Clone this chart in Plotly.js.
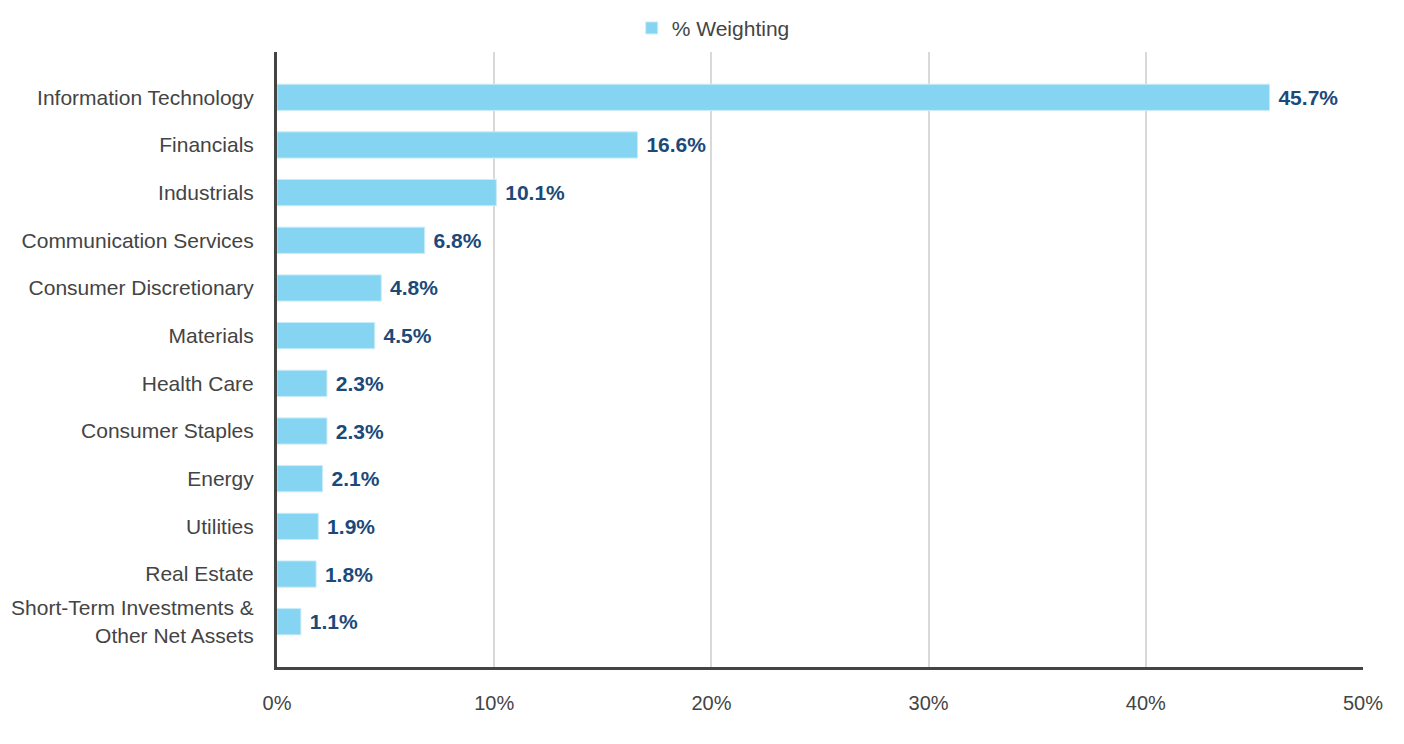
<!DOCTYPE html>
<html>
<head>
<meta charset="utf-8">
<script src="https://cdn.plot.ly/plotly-3.0.1.min.js"></script>
<style>
  html, body { margin: 0; padding: 0; background: #fff; }
  #chart { width: 1404px; height: 744px; }
</style>
</head>
<body>
<div id="chart"></div>
<script>
// sector weightings
const sectors = [
  'Information Technology',
  'Financials',
  'Industrials',
  'Communication Services',
  'Consumer Discretionary',
  'Materials',
  'Health Care',
  'Consumer Staples',
  'Energy',
  'Utilities',
  'Real Estate',
  'Short-Term Investments &amp;<br>Other Net Assets'
];
const weights = [45.7, 16.6, 10.1, 6.8, 4.8, 4.5, 2.3, 2.3, 2.1, 1.9, 1.8, 1.1];
const xTicks = [0, 10, 20, 30, 40, 50];
const xTickText = ['0%', '10%', '20%', '30%', '40%', '50%'];

const fontFamily = 'Liberation Sans, Arial, sans-serif';

const data = [{
  type: 'bar',
  orientation: 'h',
  name: '% Weighting',
  x: weights,
  y: sectors,
  text: weights.map(v => '\u00a0' + v.toFixed(1) + '%'),
  textposition: 'outside',
  cliponaxis: false,
  textfont: { family: fontFamily, size: 21, color: '#1b4a7a', weight: 'bold' },
  marker: { color: '#84d4f2', line: { color: '#c9ecf9', width: 1 } },
  hoverinfo: 'none'
}];

const layout = {
  width: 1404,
  height: 744,
  margin: { l: 277, r: 41, t: 52, b: 77, autoexpand: false },
  paper_bgcolor: '#fff',
  plot_bgcolor: '#fff',
  font: { family: fontFamily, size: 21, color: '#444' },
  bargap: 0.45,
  showlegend: true,
  legend: {
    orientation: 'h',
    x: 0.508, xanchor: 'center', xref: 'container',
    y: 0.962, yanchor: 'middle', yref: 'container',
    font: { size: 21, color: '#444' }
  },
  xaxis: {
    range: [0, 50],
    tickvals: xTicks,
    ticktext: xTickText,
    showgrid: true,
    gridcolor: '#d9d9d9',
    gridwidth: 2,
    zeroline: false,
    showline: true,
    linecolor: '#444',
    linewidth: 3,
    ticks: 'outside',
    ticklen: 16,
    tickcolor: 'rgba(0,0,0,0)',
    tickfont: { size: 20, color: '#444' },
    fixedrange: true
  },
  yaxis: {
    type: 'category',
    categoryorder: 'array',
    categoryarray: sectors,
    range: [11.95, -0.95],
    showgrid: false,
    zeroline: false,
    showline: true,
    linecolor: '#444',
    linewidth: 3,
    ticks: 'outside',
    ticklen: 16,
    tickcolor: 'rgba(0,0,0,0)',
    tickfont: { size: 21, color: '#444' },
    fixedrange: true
  }
};

Plotly.newPlot('chart', data, layout, { displayModeBar: false, staticPlot: true });
</script>
</body>
</html>
